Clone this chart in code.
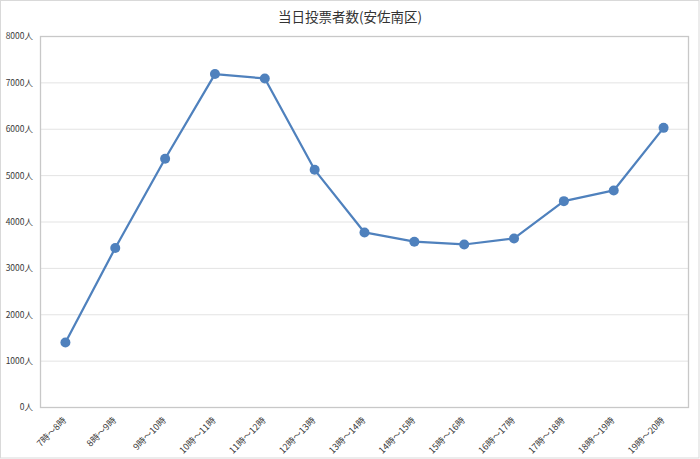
<!DOCTYPE html>
<html>
<head>
<meta charset="utf-8">
<script src="https://cdn.jsdelivr.net/npm/d3@7"></script>
<style>
  html, body { margin: 0; padding: 0; background: #fff; }
  #svg-container { width: 700px; height: 459px; }
  text { font-family: "Noto Sans CJK JP", "Noto Sans", sans-serif; }
</style>
</head>
<body>
<div id="svg-container"></div>
<script>
// data
const hours = [
  '7時～8時', '8時～9時', '9時～10時', '10時～11時', '11時～12時',
  '12時～13時', '13時～14時', '14時～15時', '15時～16時', '16時～17時',
  '17時～18時', '18時～19時', '19時～20時',
]
const voters = [1400, 3440, 5365, 7190, 7095, 5125, 3775, 3575, 3515, 3645, 4450, 4680, 6030]
const yTicks = [0, 1000, 2000, 3000, 4000, 5000, 6000, 7000, 8000]
const title = '当日投票者数(安佐南区)'

const width = 700
const height = 459

// plot region
const marginTop = 36.5
const marginRight = 11.5
const marginBottom = 51.5
const marginLeft = 40.5

const lineColor = '#4f81bd'
const textColor = '#3a3a3a'

const svg = d3
  .select('#svg-container')
  .append('svg')
  .attr('width', width)
  .attr('height', height)
  .attr('viewBox', `0 0 ${width} ${height}`)

// outer chart border
svg
  .append('rect')
  .attr('x', 0.5)
  .attr('y', 0.5)
  .attr('width', width - 1.5)
  .attr('height', height - 1.5)
  .attr('fill', '#fff')
  .attr('stroke', '#d9d9d9')

svg
  .append('text')
  .attr('x', width / 2)
  .attr('y', 22)
  .attr('text-anchor', 'middle')
  .attr('font-size', 13.5)
  .attr('fill', '#333')
  .text(title)

const xScale = d3
  .scalePoint()
  .domain(hours)
  .range([marginLeft, width - marginRight])
  .padding(0.5)

const yScale = d3
  .scaleLinear()
  .domain([0, 8000])
  .range([height - marginBottom, marginTop])

// gridlines
svg
  .append('g')
  .selectAll('line')
  .data(yTicks.filter(d => d > 0 && d < 8000))
  .join('line')
  .attr('x1', marginLeft)
  .attr('x2', width - marginRight)
  .attr('y1', d => yScale(d))
  .attr('y2', d => yScale(d))
  .attr('stroke', '#e3e3e3')
  .attr('stroke-width', 1)

// plot frame
svg
  .append('rect')
  .attr('x', marginLeft)
  .attr('y', marginTop)
  .attr('width', width - marginLeft - marginRight)
  .attr('height', height - marginTop - marginBottom)
  .attr('fill', 'none')
  .attr('stroke', '#c8c8c8')
  .attr('stroke-width', 1.3)

// y labels
svg
  .append('g')
  .selectAll('text')
  .data(yTicks)
  .join('text')
  .attr('x', 33)
  .attr('y', d => yScale(d))
  .attr('dy', '0.35em')
  .attr('text-anchor', 'end')
  .attr('font-size', 8.5)
  .attr('fill', textColor)
  .text(d => `${d}人`)

// x labels, rotated
svg
  .append('g')
  .selectAll('text')
  .data(hours)
  .join('text')
  .attr('transform', d => `translate(${xScale(d) + 1.5}, ${height - marginBottom + 13.5}) rotate(-45)`)
  .attr('text-anchor', 'end')
  .attr('font-size', 9)
  .attr('fill', textColor)
  .text(d => d)

const line = d3
  .line()
  .x((d, i) => xScale(hours[i]))
  .y(d => yScale(d))

svg
  .append('path')
  .datum(voters)
  .attr('d', line)
  .attr('fill', 'none')
  .attr('stroke', lineColor)
  .attr('stroke-width', 2.25)
  .attr('stroke-linejoin', 'round')

svg
  .append('g')
  .selectAll('circle')
  .data(voters)
  .join('circle')
  .attr('cx', (d, i) => xScale(hours[i]))
  .attr('cy', d => yScale(d))
  .attr('r', 5)
  .attr('fill', lineColor)
</script>
</body>
</html>
